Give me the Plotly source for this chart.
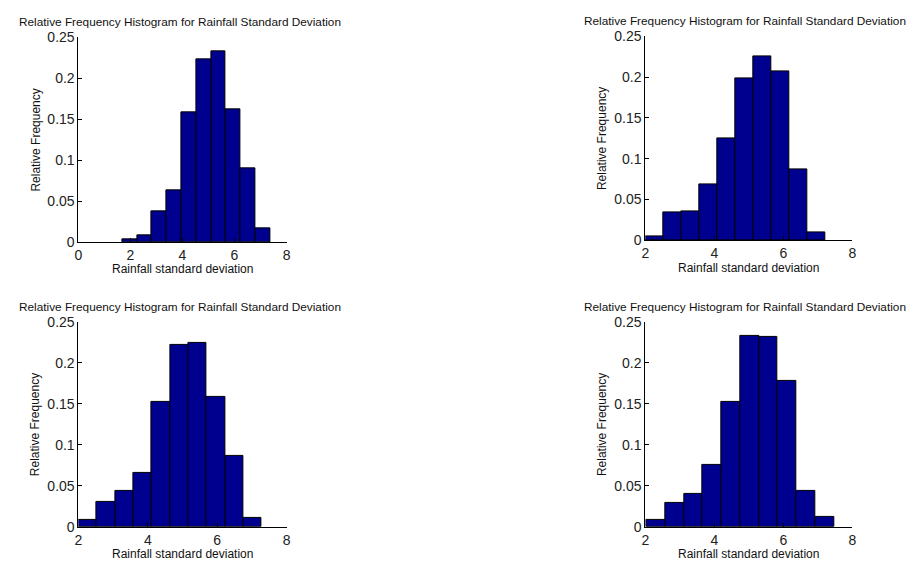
import numpy as np
import plotly.graph_objects as go

TITLE = "Relative Frequency Histogram for Rainfall Standard Deviation"
XLABEL = "Rainfall standard deviation"
YLABEL = "Relative Frequency"

# bin ranges (min, max of data) for each panel, 10 bins each
bins_tl = (1.68, 7.37)
bins_tr = (2.00, 7.22)
bins_bl = (2.00, 7.28)
bins_br = (2.03, 7.46)

freq_tl = [0.003, 0.008, 0.038, 0.0635, 0.1585, 0.2236, 0.2334, 0.1625, 0.0899, 0.0174]
freq_tr = [0.005, 0.034, 0.035, 0.069, 0.125, 0.198, 0.226, 0.207, 0.087, 0.010]
freq_bl = [0.009, 0.030, 0.0434, 0.066, 0.152, 0.222, 0.2244, 0.158, 0.0868, 0.011]
freq_br = [0.0079, 0.029, 0.040, 0.075, 0.153, 0.2326, 0.2318, 0.1786, 0.0434, 0.0122]

xrange_tl = [0, 8]
xrange_other = [2, 8]
xticks_tl = [0, 2, 4, 6, 8]
xticks_other = [2, 4, 6, 8]
yticks = [0, 0.05, 0.1, 0.15, 0.2, 0.25]
ytick_text = ["0", "0.05", "0.1", "0.15", "0.2", "0.25"]

# page is 917x571; the body keeps its default 8px margin, so the figure is smaller
M = 8
W, H = 917 - 2 * M, 571 - 2 * M


def fx(q):
    return (q - M) / W


def fy(q):
    return 1 - (q - M) / H


panels = [
    (bins_tl, freq_tl, xrange_tl, xticks_tl, (75, 285), (30, 241), (178, 14)),
    (bins_tr, freq_tr, xrange_other, xticks_other, (647, 856), (29, 239), (748, 13.5)),
    (bins_bl, freq_bl, xrange_other, xticks_other, (75, 285), (323, 534), (178, 307.5)),
    (bins_br, freq_br, xrange_other, xticks_other, (647, 856), (323, 534), (748, 307.5)),
]

fig = go.Figure()
annotations = []
FONT = "Liberation Sans, Arial, sans-serif"
for i, (bins, freq, xr, xt, (px0, px1), (py0, py1), (tx, ty)) in enumerate(panels):
    n = len(freq)
    edges = np.linspace(bins[0], bins[1], n + 1)
    centers = (edges[:-1] + edges[1:]) / 2
    width = edges[1] - edges[0]
    idx = "" if i == 0 else str(i + 1)
    fig.add_trace(go.Bar(
        x=centers, y=freq, width=width,
        marker=dict(color="#00008F", line=dict(color="black", width=1)),
        xaxis="x" + idx, yaxis="y" + idx, showlegend=False,
    ))
    xd = [fx(px0), fx(px1)]
    yd = [fy(py1), fy(py0)]
    common = dict(showline=True, linecolor="black", linewidth=1, ticks="inside",
                  ticklen=4, tickcolor="black", showgrid=False, zeroline=False,
                  tickfont=dict(family=FONT, size=14, color="#222"))
    fig.layout["xaxis" + idx] = dict(domain=xd, range=xr, tickvals=xt,
                                     anchor="y" + idx, **common)
    fig.layout["yaxis" + idx] = dict(domain=yd, range=[0, 0.25], tickvals=yticks,
                                     ticktext=ytick_text, anchor="x" + idx, **common)
    cx = (px0 + px1) / 2
    annotations.append(dict(text=TITLE, x=fx(tx), y=fy(ty), xref="paper",
                            yref="paper", showarrow=False, xanchor="center",
                            yanchor="middle",
                            font=dict(family=FONT, size=11.8, color="#111")))
    annotations.append(dict(text=XLABEL, x=fx(cx), y=fy(py1 + 28), xref="paper",
                            yref="paper", showarrow=False, xanchor="center",
                            yanchor="middle",
                            font=dict(family=FONT, size=12, color="#111")))
    annotations.append(dict(text=YLABEL, x=fx(px0 - 43), y=fy((py0 + py1) / 2),
                            xref="paper", yref="paper", showarrow=False,
                            xanchor="center", yanchor="middle", textangle=-90,
                            font=dict(family=FONT, size=12, color="#111")))

fig.update_layout(width=W, height=H, margin=dict(l=0, r=0, t=0, b=0),
                  plot_bgcolor="white", paper_bgcolor="white", bargap=0,
                  annotations=annotations)
fig.write_html("out.html", config={"displayModeBar": False})
